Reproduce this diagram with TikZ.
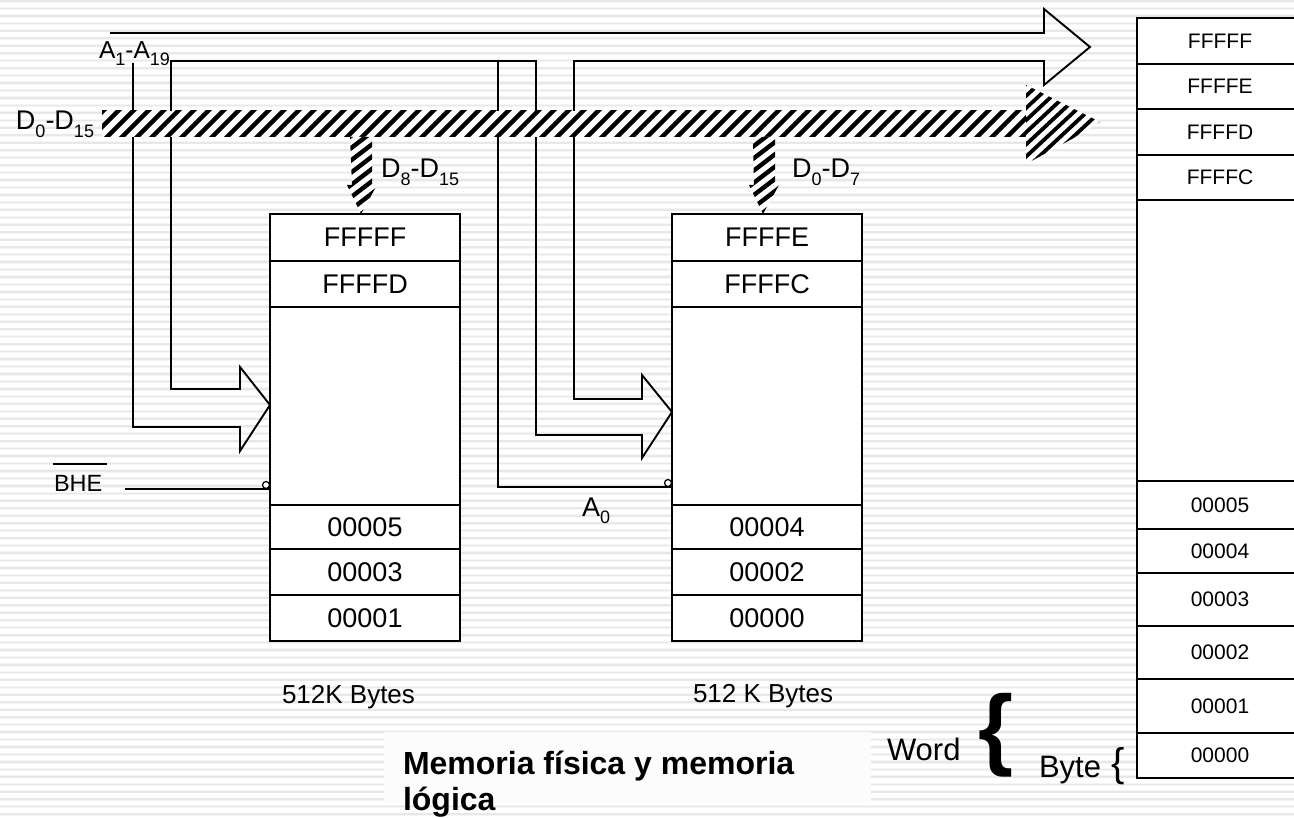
\documentclass[tikz,border=0pt]{standalone}
\usepackage{fontspec}
\setmainfont{Liberation Sans}
\newcommand\fsz[1]{\fontsize{#1}{#1}\selectfont}
\newcommand\sbs[1]{\raisebox{-0.28em}{\fsz{18}#1}}
\newcommand\hatchfill[7]{% polygon path, xstart, xend, period, ymid, half-run, half-rise
  \begin{scope}
    \clip #1;
    \fill[white] #1;
    \foreach \hx in {#2,\the\numexpr#2+#4\relax,...,#3}
      \draw[hatchline] (\hx-#6,#5+#7) -- (\hx+#6,#5-#7);
  \end{scope}}
\tikzset{
  x=1pt,y=-1pt,
  cellA/.style={draw=black,line width=1.8pt,fill=white,minimum width=190pt,inner sep=0pt,outer sep=0pt,font=\fsz{27}},
  cellB/.style={draw=black,line width=1.8pt,fill=white,minimum width=166pt,inner sep=0pt,outer sep=0pt,font=\fsz{21}},
  blank/.style={draw=black,line width=1.8pt,fill=white,inner sep=0pt,outer sep=0pt},
  wire/.style={draw=black,line width=1.9pt,line join=miter},
  label/.style={inner sep=0pt,outer sep=0pt,anchor=base west,font=\fsz{27}},
  hatchline/.style={black,line width=4.4pt},
  bubble/.style={circle,draw=black,fill=white,line width=1.2pt,minimum size=7pt,inner sep=0pt,outer sep=0pt},
}
\begin{document}
\begin{tikzpicture}
\useasboundingbox (0,0) rectangle (1294,818);
\clip (0,0) rectangle (1294,818);
\fill[white] (0,0) rectangle (1294,818);
\foreach \k in {0,...,110}{
  \draw[line width=3.2pt,black!4] (0,1+7.46*\k) -- (1294,1+7.46*\k);
  \draw[line width=1.6pt,black!9] (0,1+7.46*\k) -- (1294,1+7.46*\k);
}
% title panel
\fill[white!99!black] (384,732) rectangle (871,802);

% address lines (beneath the data bus)
\coordinate (a1) at (110,33); \coordinate (a2) at (1044,33);
\coordinate (h1) at (1044,9); \coordinate (t1) at (1090,47); \coordinate (h2) at (1044,85);
\coordinate (a3) at (1044,61); \coordinate (a4) at (574,61);
\coordinate (a5) at (536,61); \coordinate (a6) at (171,61);
\draw[wire] (a1) -- (a2) -- (h1) -- (t1) -- (h2) -- (a3) -- (a4) -- (574,399) -- (642,399) -- (642,375) -- (672,412) -- (642,458) -- (642,435) -- (536,435) -- (a5) -- (a6) -- (171,389) -- (240,389) -- (240,367) -- (270,405) -- (240,451) -- (240,427) -- (133,427) -- (133,63);
\draw[wire] (498,61) -- (498,487) -- (672,487);

% data bus
\hatchfill{(102,111) -- (1030,111) -- (1030,137) -- (102,137) -- cycle}{90}{1060}{15}{124}{30}{30}
\begin{scope}
  \tikzset{hatchline/.style={black,line width=3.8pt}}
  \hatchfill{(1026,85) -- (1100,122) -- (1072,139) -- (1026,164) -- cycle}{970}{1110}{13}{124}{60}{56}
\end{scope}
\hatchfill{(350,137) -- (372,137) -- (372,185) -- (377,185) -- (361,214) -- (347,185) -- (352,185) -- cycle}{300}{420}{16}{175}{60}{46}
\hatchfill{(753,137) -- (775,137) -- (775,185) -- (779,185) -- (763,214) -- (749,185) -- (754,185) -- cycle}{700}{820}{16}{175}{60}{46}

% left memory
\node[blank,anchor=north west,minimum width=190pt,minimum height=427pt] (lbody) at (270,214) {};
\node[cellA,minimum height=47pt] (l1) at (365,237.5) {FFFFF};
\node[cellA,minimum height=46pt] (l2) at (365,284) {FFFFD};
\node[cellA,minimum height=44pt] (l3) at (365,527) {00005};
\node[cellA,minimum height=46pt] (l4) at (365,572) {00003};
\node[cellA,minimum height=46pt] (l5) at (365,618) {00001};
% right memory
\node[blank,anchor=north west,minimum width=190pt,minimum height=427pt] (rbody) at (672,214) {};
\node[cellA,minimum height=47pt] (r1) at (767,237.5) {FFFFE};
\node[cellA,minimum height=46pt] (r2) at (767,284) {FFFFC};
\node[cellA,minimum height=44pt] (r3) at (767,527) {00004};
\node[cellA,minimum height=46pt] (r4) at (767,572) {00002};
\node[cellA,minimum height=46pt] (r5) at (767,618) {00000};
% logical memory column
\node[blank,minimum width=166pt,minimum height=760pt] (cbody) at (1220,398) {};
\node[cellB,minimum height=46pt] (c1) at (1220,41) {FFFFF};
\node[cellB,minimum height=45pt] (c2) at (1220,86.5) {FFFFE};
\node[cellB,minimum height=46pt] (c3) at (1220,132) {FFFFD};
\node[cellB,minimum height=45pt] (c4) at (1220,177.5) {FFFFC};
\node[cellB,minimum height=48pt] (c5) at (1220,505) {00005};
\node[cellB,minimum height=44pt] (c6) at (1220,551) {00004};
\node[cellB,minimum height=53pt] (c7) at (1220,599.5) {00003};
\node[cellB,minimum height=53pt] (c8) at (1220,652.5) {00002};
\node[cellB,minimum height=54pt] (c9) at (1220,706) {00001};
\node[cellB,minimum height=45pt] (c10) at (1220,755.5) {00000};

% strobes
\coordinate (bhe) at (125,489);
\draw[wire] (bhe) -- (bhe -| lbody.west);
\node[bubble] (bl) at (266,485) {};
\node[bubble] (br) at (668,483) {};

% labels
\node[label,font=\fsz{24.5}] (la) at (99,59) {A\sbs{1}-A\sbs{19}};
\node[label] (ld) at (16,130) {D\sbs{0}-D\sbs{15}};
\node[label] (ld8) at (381,178) {D\sbs{8}-D\sbs{15}};
\node[label] (ld0) at (792,178) {D\sbs{0}-D\sbs{7}};
\node[label,font=\fsz{23.5}] (lbhe) at (54,491) {BHE};
\draw[line width=1.2pt] (53,464) -- (107,464);
\node[label] (la0) at (582,516) {A\sbs{0}};
\node[label,font=\fsz{26}] (s1) at (282,703) {512K Bytes};
\node[label,font=\fsz{26}] (s2) at (693,702) {512 K Bytes};
\node[label,font=\fsz{32}\bfseries] (t1x) at (403,774) {Memoria física y memoria};
\node[label,font=\fsz{32}\bfseries] (t2x) at (403,810) {lógica};
\node[label,font=\fsz{31}] (w) at (887,760) {Word};
\node[label,font=\fsz{31}] (b) at (1039,777) {Byte};
\node[inner sep=0pt,font=\fsz{90}\bfseries] (bb) at (996,735.5) {\{};
\node[inner sep=0pt,font=\fsz{40}] (sb) at (1118,766) {\{};
\end{tikzpicture}
\end{document}
